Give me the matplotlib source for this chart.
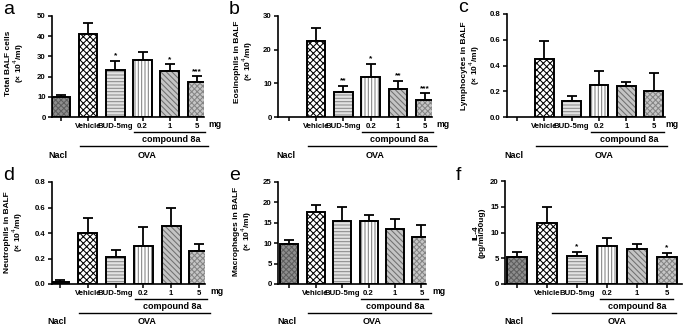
import numpy as np
import matplotlib
matplotlib.use("Agg")
from matplotlib import pyplot as plt

plt.rcParams['font.family'] = ['Liberation Sans', 'DejaVu Sans']
plt.rcParams['hatch.linewidth'] = 0.75

groups = ["Nacl", "Vehicle", "BUD-5mg", "0.2", "1", "5"]
tick_labels = ["", "Vehicle", "BUD-5mg", "0.2", "1", "5"]

total_mean = [9.9, 41.2, 23.3, 28.2, 22.6, 17.3]
total_err = [0.9, 5.4, 4.6, 4.2, 3.4, 2.8]
total_sig = ["", "", "*", "", "*", "***"]

eos_mean = [0.0, 22.6, 7.3, 12.0, 8.3, 5.1]
eos_err = [0.0, 3.9, 2.0, 3.7, 2.5, 1.9]
eos_sig = ["", "", "**", "*", "**", "***"]

lym_mean = [0.0, 0.45, 0.122, 0.247, 0.244, 0.205]
lym_err = [0.0, 0.14, 0.038, 0.111, 0.029, 0.133]
lym_sig = ["", "", "", "", "", ""]

neu_mean = [0.016, 0.40, 0.21, 0.295, 0.452, 0.256]
neu_err = [0.015, 0.118, 0.054, 0.149, 0.148, 0.058]
neu_sig = ["", "", "", "", "", ""]

mac_mean = [9.9, 17.6, 15.5, 15.4, 13.6, 11.6]
mac_err = [0.9, 1.8, 3.3, 1.4, 2.3, 2.9]
mac_sig = ["", "", "", "", "", ""]

il4_mean = [5.2, 11.9, 5.5, 7.4, 6.8, 5.3]
il4_err = [1.1, 3.0, 0.7, 1.5, 0.9, 0.8]
il4_sig = ["", "", "*", "", "", "*"]

# bar looks: face colour, hatch, hatch colour
styles = [("#8e8e8e", "xxxxxx", "#5e5e5e"),
          ("white", "xxxxx", "black"),
          ("#e2e2e2", "-----", "#8a8a8a"),
          ("white", "|||||", "#808080"),
          ("#c4c4c4", "\\\\\\\\\\\\", "#707070"),
          ("#c6c6c6", "xxxxxx", "#858585")]

W, H = 685, 327
fig = plt.figure(figsize=(6.85, 3.27), dpi=100)

def px_axes(left, right, top, bottom):
    return fig.add_axes([left / W, 1 - bottom / H, (right - left) / W, (bottom - top) / H])

def panel(box, letter, ylabel, lab_pos, mean, err, sig, ymax, ystep, xlim, fmt, mg=True, lines=None):
    left, right, top, bottom = box
    ax = px_axes(left, right, top, bottom)
    x = np.arange(len(groups))
    for i in range(len(groups)):
        face, hatch, hc = styles[i]
        if mean[i] <= 0:
            continue
        ax.bar(x[i], mean[i], 0.68, color=face, hatch=hatch, edgecolor=hc, linewidth=0, zorder=2)
        ax.bar(x[i], mean[i], 0.68, fill=False, edgecolor="black", linewidth=1.4, zorder=3)
        ax.errorbar(x[i], mean[i], yerr=[[0], [err[i]]], fmt="none", ecolor="black",
                    elinewidth=1.3, capsize=3.6, capthick=1.3, zorder=1)
        if sig[i]:
            ax.text(x[i], mean[i] + err[i] + ymax * 0.015, sig[i], ha="center", va="bottom",
                    fontsize=6, fontweight="bold")
    ax.set_xlim(*xlim)
    ax.set_ylim(0, ymax)
    ax.set_yticks(np.arange(0, ymax + ystep / 2, ystep))
    ax.yaxis.set_major_formatter(matplotlib.ticker.FormatStrFormatter(fmt))
    ax.set_xticks(x)
    ax.set_xticklabels(tick_labels, fontsize=5.6, fontweight="bold")
    for lab in ax.get_yticklabels():
        lab.set_fontweight("bold")
    ax.tick_params(axis="both", labelsize=5.6, length=3, width=1.1, pad=1.5)
    for s in ["top", "right"]:
        ax.spines[s].set_visible(False)
    for s in ["left", "bottom"]:
        ax.spines[s].set_linewidth(1.2)
    ax.set_ylabel(ylabel, fontsize=6, fontweight="bold", linespacing=1.0)
    off, ypos = lab_pos
    ax.yaxis.set_label_coords(-off / (right - left), ypos)
    h = bottom - top
    tr = ax.get_xaxis_transform()
    if mg:
        ax.text(5.42, -7.5 / h, "mg", transform=tr, ha="left", va="center", fontsize=6.3,
                fontweight="bold")
    l1, l2 = lines
    ax.plot(l1, [-15 / h] * 2, color="black", lw=1.0, transform=tr, clip_on=False)
    ax.text((l1[0] + l1[1]) / 2 + 0.05, -22.5 / h, "compound 8a", transform=tr, ha="center",
            va="center", fontsize=6.5, fontweight="bold")
    ax.plot(l2, [-29 / h] * 2, color="black", lw=1.0, transform=tr, clip_on=False)
    ax.text(-0.1, -38 / h, "Nacl", transform=tr, ha="center", va="center", fontsize=6.5,
            fontweight="bold")
    ax.text((l2[0] + l2[1]) / 2 + 0.1, -38 / h, "OVA", transform=tr, ha="center", va="center",
            fontsize=6.5, fontweight="bold")
    fig.text((left - 49) / W, 1 - (top - 6) / H, letter, fontsize=14, va="center", ha="left")
    return ax

panel((52, 204, 16, 117), "a", "Total BALF cells\n(\u00d7 10$^4$/ml)", (26, 0.53),
      total_mean, total_err, total_sig, 50, 10, (-0.33, 5.26), "%d",
      lines=((2.7, 5.3), (0.7, 5.4)))
panel((278, 432, 16, 117), "b", "Eosinophils in BALF\n(\u00d7 10$^4$/ml)", (23, 0.55),
      eos_mean, eos_err, eos_sig, 30, 10, (-0.4, 5.25), "%d",
      lines=((2.7, 5.3), (0.7, 5.4)))
panel((507, 665, 14, 117), "c", "Lymphocytes in BALF\n(\u00d7 10$^4$/ml)", (25, 0.5),
      lym_mean, lym_err, lym_sig, 0.8, 0.2, (-0.37, 5.42), "%.1f",
      lines=((2.7, 5.4), (0.7, 5.5)))
panel((52, 205, 182, 284), "d", "Neutrophils in BALF\n(\u00d7 10$^4$/ml)", (27, 0.51),
      neu_mean, neu_err, neu_sig, 0.8, 0.2, (-0.29, 5.22), "%.1f",
      lines=((2.7, 5.3), (0.7, 5.4)))
panel((278, 426, 182, 284), "e", "Macrophages in BALF\n(\u00d7 10$^4$/ml)", (24, 0.52),
      mac_mean, mac_err, mac_sig, 25, 5, (-0.42, 5.17), "%d",
      lines=((2.7, 5.25), (0.7, 5.35)))
panel((505, 682, 181, 284), "f", "IL-4\n(pg/ml/50ug)", (19, 0.5),
      il4_mean, il4_err, il4_sig, 20, 5, (-0.4, 5.5), "%d", mg=False,
      lines=((2.75, 5.2), (1.15, 5.3)))

fig.savefig("out.png", dpi=100)
